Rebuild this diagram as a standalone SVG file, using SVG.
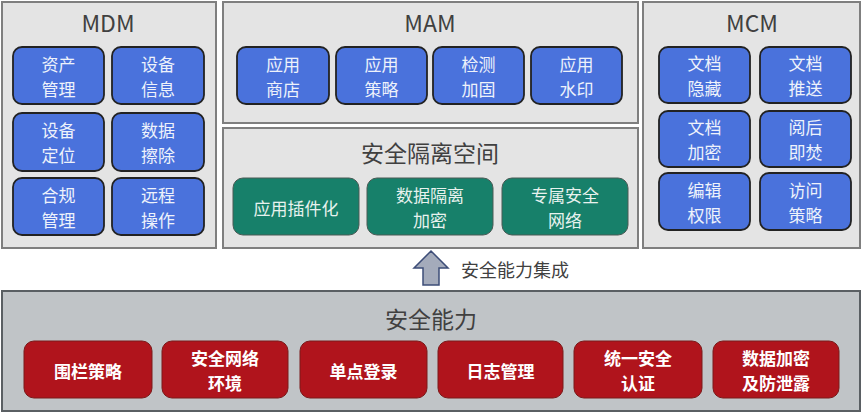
<svg xmlns="http://www.w3.org/2000/svg" width="863" height="413" viewBox="0 0 863 413">
<style>
text{font-family:"Noto Sans CJK SC","Noto Sans",sans-serif;text-anchor:middle;dominant-baseline:central}
.panel{fill:#e4e4e4;stroke:#7f7f7f;stroke-width:2}
.base{fill:#c0c4c7;stroke:#5a5f63;stroke-width:2}
.title{font-size:23px;fill:#404040}
.blue{fill:#4a72dc;stroke:#222;stroke-width:1.8}
.green{fill:#17806a;stroke:#4a5a55;stroke-width:1}
.red{fill:#b0141c;stroke:#7a1a1a;stroke-width:1}
.bt{font-size:17px;fill:#eef2fb}
.gt{font-size:17px;fill:#e8f2ee}
.rt{font-size:17px;fill:#ffffff;font-weight:bold}
.lbl{font-size:18px;fill:#404040}
</style>
<rect width="863" height="413" fill="#ffffff"/>

<g id="mdm">
<rect class="panel" x="2" y="2" width="214" height="246"/>
<text class="title" x="108" y="22">MDM</text>
<g id="mdm1"><rect class="blue" x="13" y="47" width="91" height="57" rx="9"/><text class="bt" x="58.5" y="63">资产</text><text class="bt" x="58.5" y="88">管理</text></g>
<g id="mdm2"><rect class="blue" x="112" y="47" width="92" height="57" rx="9"/><text class="bt" x="158" y="63">设备</text><text class="bt" x="158" y="88">信息</text></g>
<g id="mdm3"><rect class="blue" x="13" y="113" width="91" height="58" rx="9"/><text class="bt" x="58.5" y="129.5">设备</text><text class="bt" x="58.5" y="154.5">定位</text></g>
<g id="mdm4"><rect class="blue" x="112" y="113" width="92" height="58" rx="9"/><text class="bt" x="158" y="129.5">数据</text><text class="bt" x="158" y="154.5">擦除</text></g>
<g id="mdm5"><rect class="blue" x="13" y="178" width="91" height="57" rx="9"/><text class="bt" x="58.5" y="194">合规</text><text class="bt" x="58.5" y="219">管理</text></g>
<g id="mdm6"><rect class="blue" x="112" y="178" width="92" height="57" rx="9"/><text class="bt" x="158" y="194">远程</text><text class="bt" x="158" y="219">操作</text></g>
</g>

<g id="mam">
<rect class="panel" x="223" y="2" width="415" height="121"/>
<text class="title" x="430" y="22">MAM</text>
<g id="mam1"><rect class="blue" x="237" y="47" width="92" height="57" rx="9"/><text class="bt" x="283" y="63">应用</text><text class="bt" x="283" y="88">商店</text></g>
<g id="mam2"><rect class="blue" x="336" y="47" width="91" height="57" rx="9"/><text class="bt" x="381.5" y="63">应用</text><text class="bt" x="381.5" y="88">策略</text></g>
<g id="mam3"><rect class="blue" x="433" y="47" width="91" height="57" rx="9"/><text class="bt" x="478.5" y="63">检测</text><text class="bt" x="478.5" y="88">加固</text></g>
<g id="mam4"><rect class="blue" x="531" y="47" width="91" height="57" rx="9"/><text class="bt" x="576.5" y="63">应用</text><text class="bt" x="576.5" y="88">水印</text></g>
</g>

<g id="sandbox">
<rect class="panel" x="223" y="128" width="415" height="120"/>
<text class="title" x="430" y="152">安全隔离空间</text>
<g id="sb1"><rect class="green" x="233" y="178" width="126" height="57" rx="10"/><text class="gt" x="296" y="207">应用插件化</text></g>
<g id="sb2"><rect class="green" x="367" y="178" width="126" height="57" rx="10"/><text class="gt" x="430" y="194">数据隔离</text><text class="gt" x="430" y="219">加密</text></g>
<g id="sb3"><rect class="green" x="502" y="178" width="126" height="57" rx="10"/><text class="gt" x="565" y="194">专属安全</text><text class="gt" x="565" y="219">网络</text></g>
</g>

<g id="mcm">
<rect class="panel" x="643" y="2" width="217" height="246"/>
<text class="title" x="752" y="22">MCM</text>
<g id="mcm1"><rect class="blue" x="659" y="47" width="91" height="56" rx="9"/><text class="bt" x="704.5" y="62.5">文档</text><text class="bt" x="704.5" y="87.5">隐藏</text></g>
<g id="mcm2"><rect class="blue" x="760" y="47" width="91" height="56" rx="9"/><text class="bt" x="805.5" y="62.5">文档</text><text class="bt" x="805.5" y="87.5">推送</text></g>
<g id="mcm3"><rect class="blue" x="659" y="111" width="91" height="56" rx="9"/><text class="bt" x="704.5" y="126.5">文档</text><text class="bt" x="704.5" y="151.5">加密</text></g>
<g id="mcm4"><rect class="blue" x="760" y="111" width="91" height="56" rx="9"/><text class="bt" x="805.5" y="126.5">阅后</text><text class="bt" x="805.5" y="151.5">即焚</text></g>
<g id="mcm5"><rect class="blue" x="659" y="173" width="91" height="57" rx="9"/><text class="bt" x="704.5" y="189">编辑</text><text class="bt" x="704.5" y="214">权限</text></g>
<g id="mcm6"><rect class="blue" x="760" y="173" width="91" height="57" rx="9"/><text class="bt" x="805.5" y="189">访问</text><text class="bt" x="805.5" y="214">策略</text></g>
</g>

<g id="connectors">
<path d="M431,251 L448,268 L439,268 L439,285 L423,285 L423,268 L414,268 Z" fill="#a4abbb" stroke="#3d4d78" stroke-width="1.5" stroke-linejoin="miter"/>
<text class="lbl" x="515" y="269">安全能力集成</text>
</g>

<g id="capability">
<rect class="base" x="2" y="291" width="858" height="120"/>
<text class="title" x="431" y="318">安全能力</text>
<g id="c1"><rect class="red" x="24" y="341" width="128" height="57" rx="10"/><text class="rt" x="88" y="370">围栏策略</text></g>
<g id="c2"><rect class="red" x="162" y="341" width="126" height="57" rx="10"/><text class="rt" x="225" y="357">安全网络</text><text class="rt" x="225" y="382">环境</text></g>
<g id="c3"><rect class="red" x="300" y="341" width="127" height="57" rx="10"/><text class="rt" x="363.5" y="370">单点登录</text></g>
<g id="c4"><rect class="red" x="438" y="341" width="125" height="57" rx="10"/><text class="rt" x="500.5" y="370">日志管理</text></g>
<g id="c5"><rect class="red" x="574" y="341" width="128" height="57" rx="10"/><text class="rt" x="638" y="357">统一安全</text><text class="rt" x="638" y="382">认证</text></g>
<g id="c6"><rect class="red" x="713" y="341" width="126" height="57" rx="10"/><text class="rt" x="776" y="357">数据加密</text><text class="rt" x="776" y="382">及防泄露</text></g>
</g>
</svg>
